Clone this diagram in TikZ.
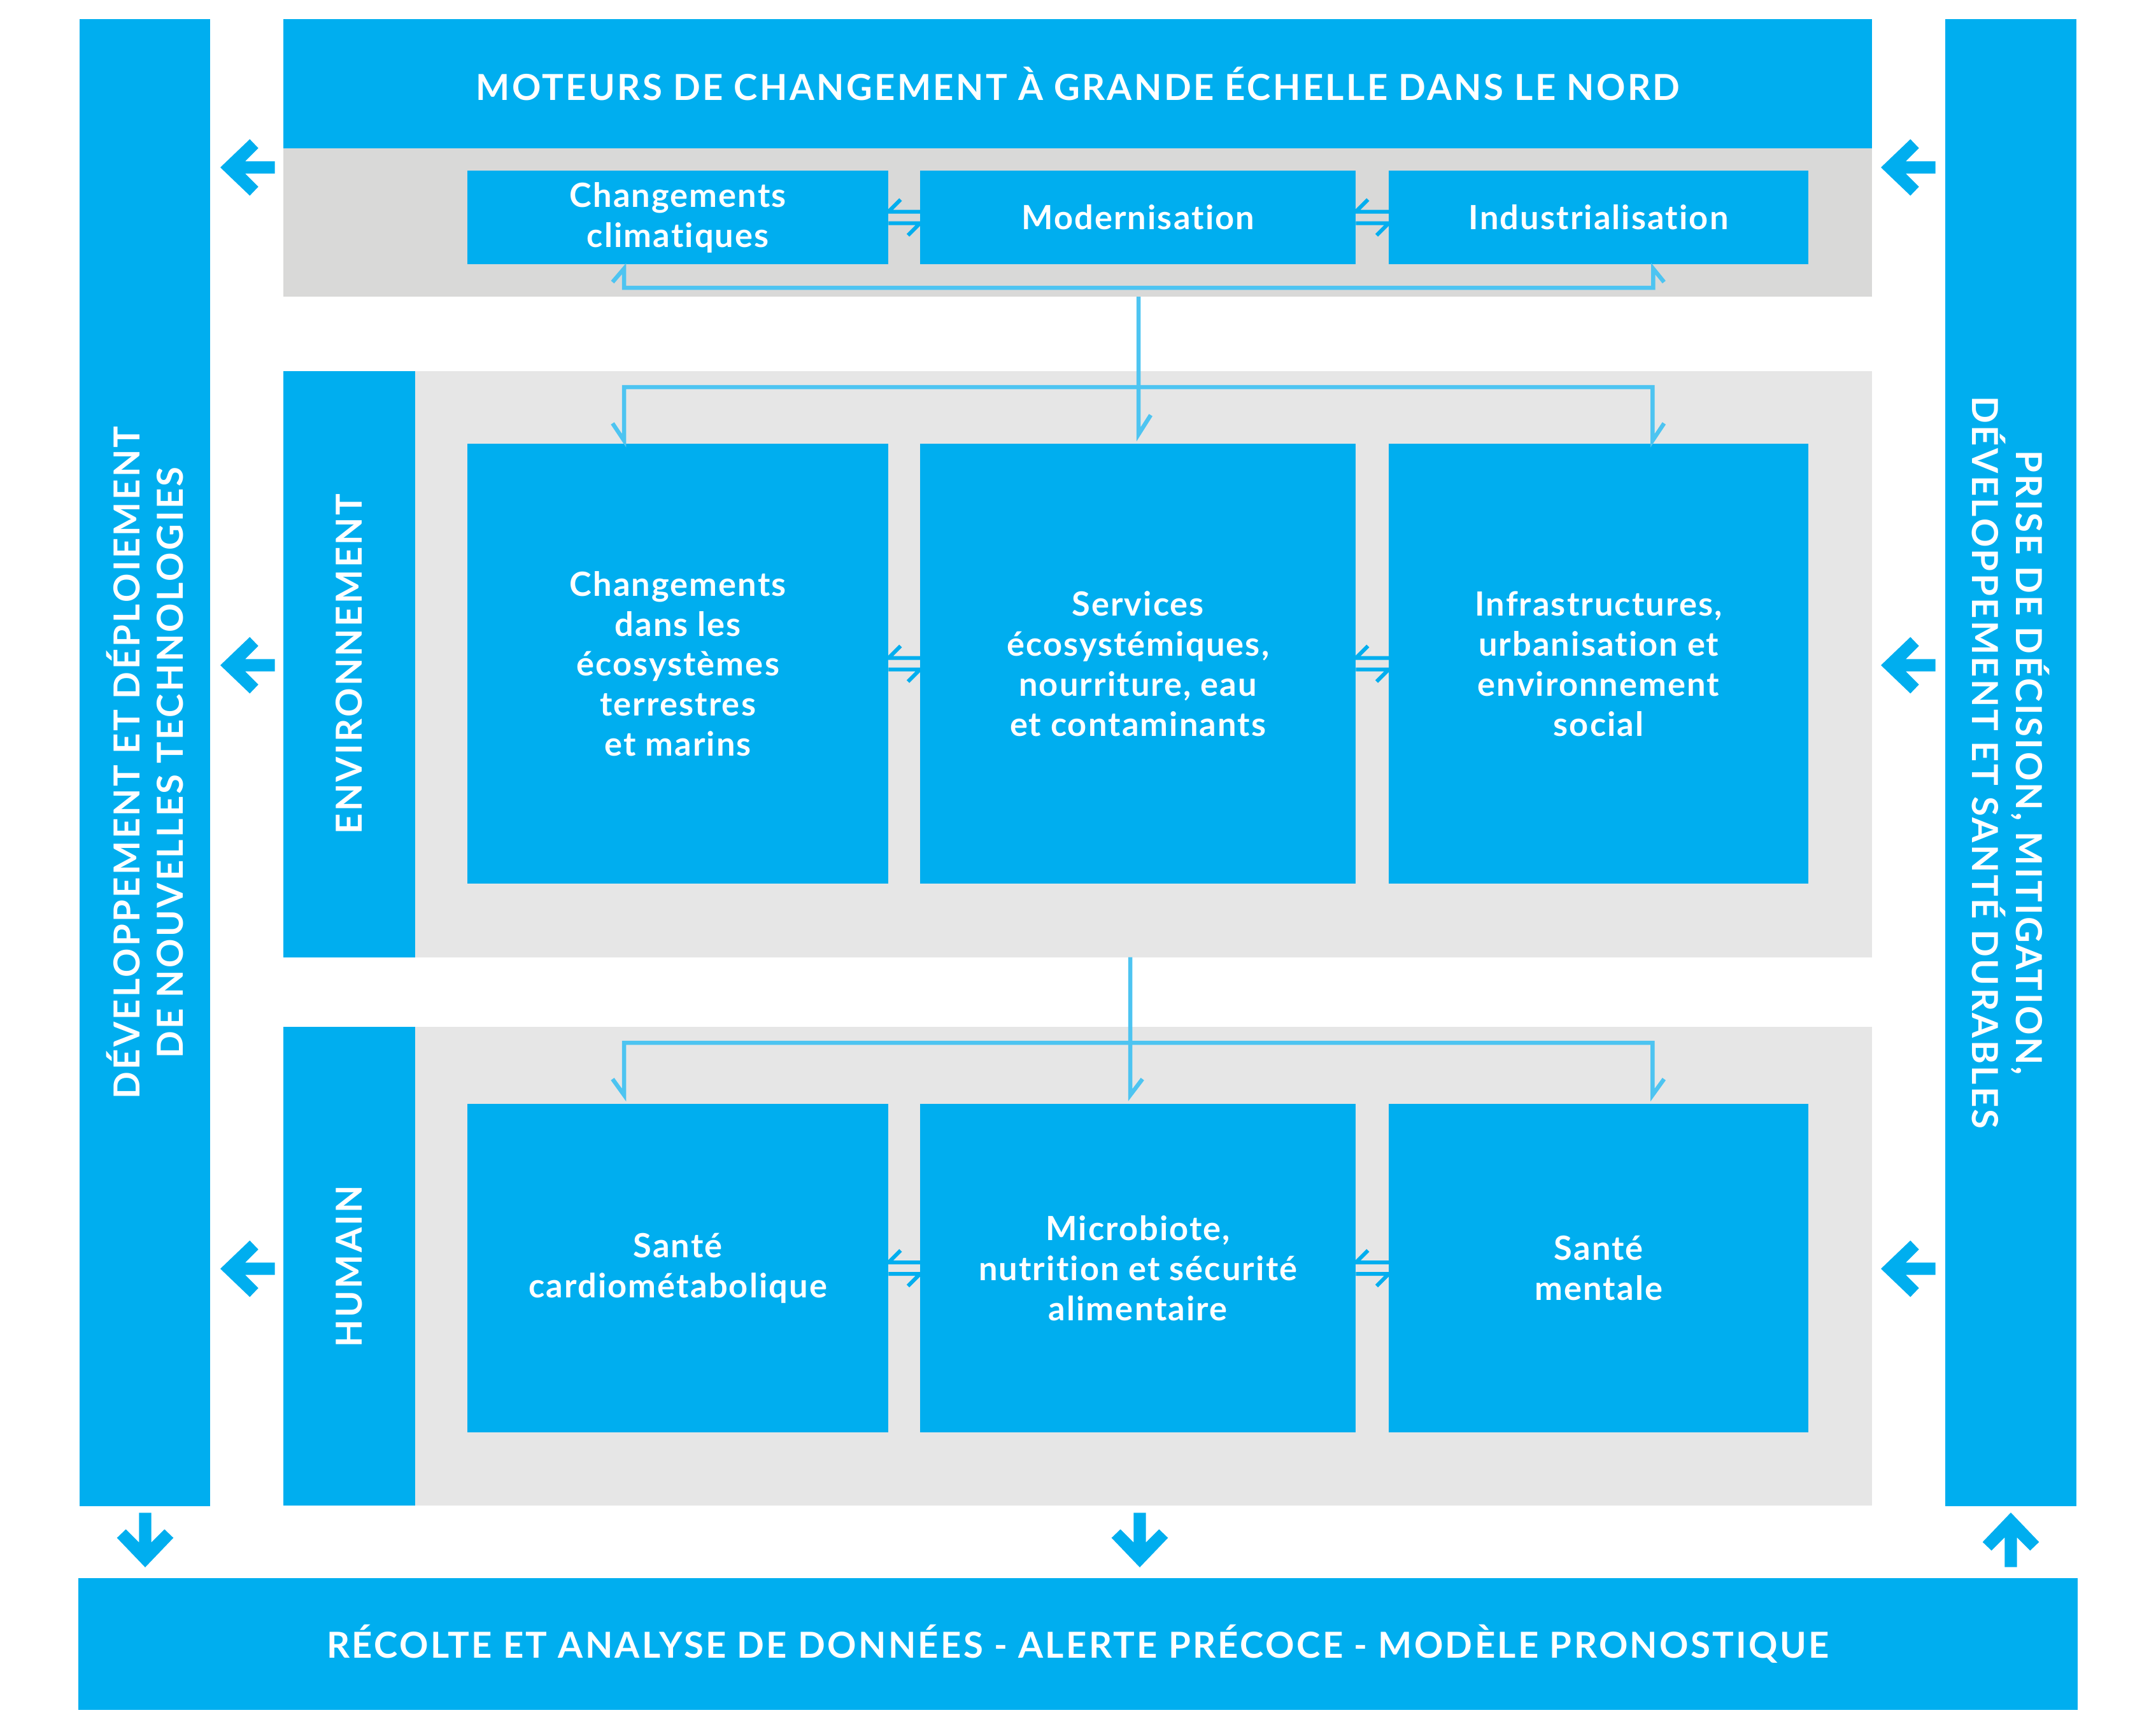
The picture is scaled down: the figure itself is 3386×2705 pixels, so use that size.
\documentclass[tikz,border=0pt]{standalone}
\usepackage{fontspec}
\setmainfont{Lato}
\newfontfamily\boxfont{Lato}[LetterSpace=4, Ligatures={NoCommon,NoDiscretionary}]
\newfontfamily\capfont{Lato}[LetterSpace=6, Ligatures={NoCommon,NoDiscretionary}]
\usetikzlibrary{calc}
\definecolor{mainblue}{RGB}{0,174,239}
\definecolor{lineblue}{RGB}{77,196,241}
\definecolor{graytop}{RGB}{217,217,216}
\definecolor{graymid}{RGB}{230,230,230}
\tikzset{
  area/.style={fill=#1, draw=none, inner sep=0pt, outer sep=0pt, anchor=north west},
  boxnode/.style={fill=mainblue, draw=none, inner sep=0pt, outer sep=0pt, anchor=north west,
    text=white, align=center, font=\boxfont\bfseries\fontsize{14.9}{17.9}\selectfont},
  captext/.style={text=white, align=center, inner sep=0pt, font=\capfont\bfseries\fontsize{16}{19.5}\selectfont},
  conn/.style={draw=lineblue, line width=0.065cm, line join=miter, line cap=butt},
  harp/.style={draw=mainblue, line width=0.06cm, line join=miter, line cap=butt},
  bigarrow/.pic={\fill[mainblue] (-9.7,-85.7) -- (9.7,-85.7) -- (9.7,-39) -- (30.3,-59.7) -- (44.3,-46.3) -- (0,0) -- (-44.3,-46.3) -- (-30.3,-59.7) -- (-9.7,-39) -- cycle;}
}
\newcommand\harpoons[2]{%
  \draw[harp] ($(#2.west)+(0,-9)$) -- ($(#1.east)+(0,-9)$) -- ++(19,-19);
  \draw[harp] ($(#1.east)+(0,9)$) -- ($(#2.west)+(0,9)$) -- ++(-19,19);}
\begin{document}
\begin{tikzpicture}[x=0.01cm,y=-0.01cm]
\useasboundingbox[fill=white] (0,0) rectangle (3386,2705);

% side and bottom bars
\node[area=mainblue, minimum width=2.05cm, minimum height=23.35cm] (leftbar) at (125,30) {};
\node[area=mainblue, minimum width=2.06cm, minimum height=23.35cm] (rightbar) at (3055,30) {};
\node[area=mainblue, minimum width=31.38cm, minimum height=2.07cm] (bottombar) at (123,2479) {};
\node[captext, rotate=90] (lefttext) at (leftbar.center) {DÉVELOPPEMENT ET DÉPLOIEMENT\\DE NOUVELLES TECHNOLOGIES};
\node[captext, rotate=-90] (righttext) at (rightbar.center) {PRISE DE DÉCISION, MITIGATION,\\DÉVELOPPEMENT ET SANTÉ DURABLES};
\node[captext] (bottomtext) at (bottombar.center) {RÉCOLTE ET ANALYSE DE DONNÉES - ALERTE PRÉCOCE - MODÈLE PRONOSTIQUE};

% top block
\node[area=mainblue, minimum width=24.94cm, minimum height=2.03cm] (header) at (445,30) {};
\node[captext] (headertext) at (header.center) {MOTEURS DE CHANGEMENT À GRANDE ÉCHELLE DANS LE NORD};
\node[area=graytop, minimum width=24.94cm, minimum height=2.33cm] (topgray) at (445,233) {};

% environment block
\node[area=graymid, minimum width=22.87cm, minimum height=9.20cm] (envgray) at (652,583) {};
\node[area=mainblue, minimum width=2.07cm, minimum height=9.20cm] (envstrip) at (445,583) {};
\node[captext, rotate=90] (envtext) at (envstrip.center) {ENVIRONNEMENT};

% human block
\node[area=graymid, minimum width=22.87cm, minimum height=7.52cm] (humgray) at (652,1613) {};
\node[area=mainblue, minimum width=2.07cm, minimum height=7.52cm] (humstrip) at (445,1613) {};
\node[captext, rotate=90] (humtext) at (humstrip.center) {HUMAIN};

% boxes
\node[boxnode, minimum width=6.61cm, minimum height=1.47cm] (c1) at (734,268) {Changements\\climatiques};
\node[boxnode, minimum width=6.84cm, minimum height=1.47cm] (c2) at (1445,268) {Modernisation};
\node[boxnode, minimum width=6.59cm, minimum height=1.47cm] (c3) at (2181,268) {Industrialisation};

\node[boxnode, minimum width=6.61cm, minimum height=6.91cm] (e1) at (734,697) {Changements\\dans les\\écosystèmes\\terrestres\\et marins};
\node[boxnode, minimum width=6.84cm, minimum height=6.91cm] (e2) at (1445,697) {Services\\écosystémiques,\\nourriture, eau\\et contaminants};
\node[boxnode, minimum width=6.59cm, minimum height=6.91cm] (e3) at (2181,697) {Infrastructures,\\urbanisation et\\environnement\\social};

\node[boxnode, minimum width=6.61cm, minimum height=5.16cm] (h1) at (734,1734) {Santé\\cardiométabolique};
\node[boxnode, minimum width=6.84cm, minimum height=5.16cm] (h2) at (1445,1734) {Microbiote,\\nutrition et sécurité\\alimentaire};
\node[boxnode, minimum width=6.59cm, minimum height=5.16cm] (h3) at (2181,1734) {Santé\\mentale};

% harpoons between boxes
\harpoons{c1}{c2}
\harpoons{c2}{c3}
\harpoons{e1}{e2}
\harpoons{e2}{e3}
\harpoons{h1}{h2}
\harpoons{h2}{h3}

% connector lines
\coordinate (tA) at ($(c1.south west)+(246,7)$);
\coordinate (tB) at ($(c3.south east)+(-244,7)$);
\draw[conn] ($(tA)+(-18,21)$) -- (tA) -- ++(0,30) -| (tB) -- ++(17,21);
\coordinate (tDown) at ($(e2.north)+(1,-15)$);
\draw[conn] (topgray.south -| tDown) -- (tDown) -- ++(19,-30);

\coordinate (eA) at ($(e1.north west)+(246,-5)$);
\coordinate (eB) at ($(e3.north east)+(-245,-5)$);
\draw[conn] ($(eA)+(-18,-27)$) -- (eA) -- ++(0,-84) -| (eB) -- ++(18,-27);

\coordinate (hDown) at ($(h2.north)+(-12,-14)$);
\draw[conn] (envgray.south -| hDown) -- (hDown) -- ++(19,-25);
\coordinate (hA) at ($(h1.north west)+(246,-14)$);
\coordinate (hB) at ($(h3.north east)+(-245,-14)$);
\draw[conn] ($(hA)+(-18,-25)$) -- (hA) -- ++(0,-82) -| (hB) -- ++(18,-25);

% big arrows
\pic[rotate=-90] at (346,263) {bigarrow};
\pic[rotate=-90] at (346,1045) {bigarrow};
\pic[rotate=-90] at (346,1993) {bigarrow};
\pic[rotate=-90] at (2954,263) {bigarrow};
\pic[rotate=-90] at (2954,1045) {bigarrow};
\pic[rotate=-90] at (2954,1993) {bigarrow};
\pic at (228,2462) {bigarrow};
\pic at (1790,2462) {bigarrow};
\pic[rotate=180] at (3158,2376) {bigarrow};
\end{tikzpicture}
\end{document}
